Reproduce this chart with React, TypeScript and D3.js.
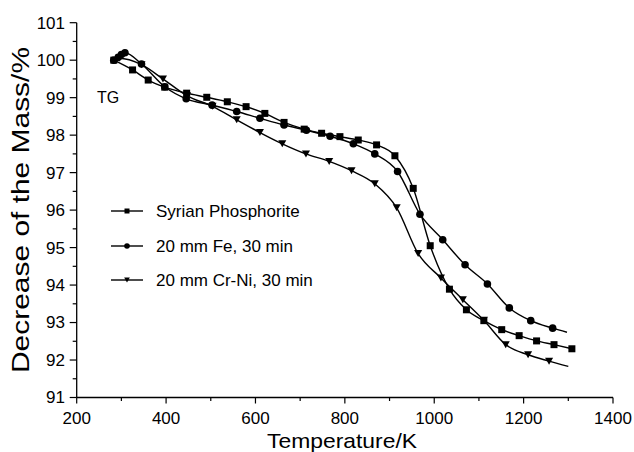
import React from 'react';
import * as d3 from 'd3';

const phosT = [283, 325, 360, 397, 446, 491, 537, 579, 621, 664, 709, 748, 789, 830, 871, 912, 953, 991, 1034, 1072, 1111, 1151, 1190, 1229, 1268, 1308];
const phosM = [100.0, 99.74, 99.47, 99.28, 99.12, 99.01, 98.89, 98.76, 98.58, 98.34, 98.16, 98.05, 97.96, 97.87, 97.74, 97.45, 96.58, 95.05, 93.89, 93.34, 93.05, 92.81, 92.65, 92.51, 92.41, 92.3];

const feT = [283, 293, 300, 308, 345, 397, 445, 503, 558, 610, 664, 714, 767, 819, 867, 918, 968, 1019, 1069, 1119, 1168, 1216, 1265, 1297];
const feM = [100.0, 100.08, 100.15, 100.2, 99.9, 99.29, 98.97, 98.8, 98.63, 98.45, 98.27, 98.13, 97.97, 97.77, 97.5, 97.03, 95.89, 95.21, 94.54, 94.03, 93.39, 93.05, 92.85, 92.74];

const crT = [287, 295, 345, 393, 447, 504, 558, 610, 660, 713, 765, 815, 867, 916, 964, 1015, 1064, 1111, 1160, 1210, 1257, 1300];
const crM = [100.0, 100.05, 99.88, 99.5, 99.05, 98.77, 98.41, 98.07, 97.77, 97.5, 97.3, 97.05, 96.7, 96.06, 94.84, 94.19, 93.61, 93.06, 92.41, 92.14, 91.97, 91.83];

const seriesNames = ['Syrian Phosphorite', '20 mm Fe, 30 min', '20 mm Cr-Ni, 30 min'];
const seriesShapes = ['square', 'circle', 'triangle'];
// whether the final point of each series is a line end only (no marker)
const lastIsLineEnd = [false, true, true];

const xMajor = [200, 400, 600, 800, 1000, 1200, 1400];
const xMinor = [300, 500, 700, 900, 1100, 1300];
const yMajor = [91, 92, 93, 94, 95, 96, 97, 98, 99, 100, 101];
const yMinor = [91.5, 92.5, 93.5, 94.5, 95.5, 96.5, 97.5, 98.5, 99.5, 100.5];

const FONT = 'Liberation Sans, Arial, Helvetica, sans-serif';

function Marker({ shape, x, y, s }: { shape: string; x: number; y: number; s: number }) {
  if (shape === 'square') {
    return <rect x={x - s / 2} y={y - s / 2} width={s} height={s} fill="#000" />;
  }
  if (shape === 'circle') {
    return <circle cx={x} cy={y} r={s / 2 + 0.3} fill="#000" />;
  }
  const w = s * 1.15;
  const h = s * 1.0;
  return (
    <path
      d={`M${x - w / 2},${y - h / 2}L${x + w / 2},${y - h / 2}L${x},${y + h / 2}Z`}
      fill="#000"
    />
  );
}

export default function App() {
  const x = d3.scaleLinear().domain([200, 1400]).range([76.7, 613]);
  const y = d3.scaleLinear().domain([91, 101]).range([397.5, 22.7]);

  const series = [
    { T: phosT, M: phosM },
    { T: feT, M: feM },
    { T: crT, M: crM },
  ];

  const line = d3
    .line<[number, number]>()
    .x((d) => x(d[0]))
    .y((d) => y(d[1]))
    .curve(d3.curveMonotoneX);

  const legendY = [211, 246, 280];

  return (
    <svg
      width={634}
      height={452}
      style={{ position: 'absolute', left: 0, top: 0, background: '#fff' }}
      fontFamily={FONT}
    >
      <rect width={634} height={452} fill="#fff" />
      {/* axes */}
      <line x1={x(200)} x2={x(1400)} y1={y(91)} y2={y(91)} stroke="#000" strokeWidth={1.3} />
      <line x1={x(200)} x2={x(200)} y1={y(91)} y2={y(101)} stroke="#000" strokeWidth={1.3} />
      {xMajor.map((t) => (
        <g key={'xm' + t}>
          <line x1={x(t)} x2={x(t)} y1={y(91)} y2={y(91) + 6} stroke="#000" strokeWidth={1.2} />
          <text x={x(t)} y={424} fontSize={17} textAnchor="middle" fill="#000">
            {t}
          </text>
        </g>
      ))}
      {xMinor.map((t) => (
        <line key={'xn' + t} x1={x(t)} x2={x(t)} y1={y(91)} y2={y(91) + 3.5} stroke="#000" strokeWidth={1.2} />
      ))}
      {yMajor.map((v) => (
        <g key={'ym' + v}>
          <line x1={x(200) - 7} x2={x(200)} y1={y(v)} y2={y(v)} stroke="#000" strokeWidth={1.2} />
          <text x={65} y={y(v)} dy="0.35em" fontSize={17} textAnchor="end" fill="#000">
            {v}
          </text>
        </g>
      ))}
      {yMinor.map((v) => (
        <line key={'yn' + v} x1={x(200) - 4} x2={x(200)} y1={y(v)} y2={y(v)} stroke="#000" strokeWidth={1.2} />
      ))}
      <text x={342} y={448} fontSize={21} textAnchor="middle" textLength={150} lengthAdjust="spacingAndGlyphs" fill="#000">
        Temperature/K
      </text>
      <text
        transform={`translate(29,210) rotate(-90)`}
        fontSize={23}
        textAnchor="middle"
        textLength={326}
        lengthAdjust="spacingAndGlyphs"
        fill="#000"
      >
        Decrease of the Mass/%
      </text>
      <text x={97} y={103} fontSize={16} fill="#000">
        TG
      </text>

      {/* series */}
      {series.map((s, i) => {
        const pts = s.T.map((t, j) => [t, s.M[j]] as [number, number]);
        const markerPts = lastIsLineEnd[i] ? pts.slice(0, -1) : pts;
        return (
          <g key={'s' + i}>
            <path d={line(pts) || ''} fill="none" stroke="#000" strokeWidth={1.4} />
            {markerPts.map((p, j) => (
              <Marker key={j} shape={seriesShapes[i]} x={x(p[0])} y={y(p[1])} s={7} />
            ))}
          </g>
        );
      })}

      {/* legend */}
      {seriesNames.map((name, i) => (
        <g key={'l' + i}>
          <line x1={111} x2={143} y1={legendY[i]} y2={legendY[i]} stroke="#000" strokeWidth={1.4} />
          <Marker shape={seriesShapes[i]} x={127} y={legendY[i]} s={5} />
          <text x={156} y={legendY[i]} dy="0.36em" fontSize={17} fill="#000">
            {name}
          </text>
        </g>
      ))}
    </svg>
  );
}
